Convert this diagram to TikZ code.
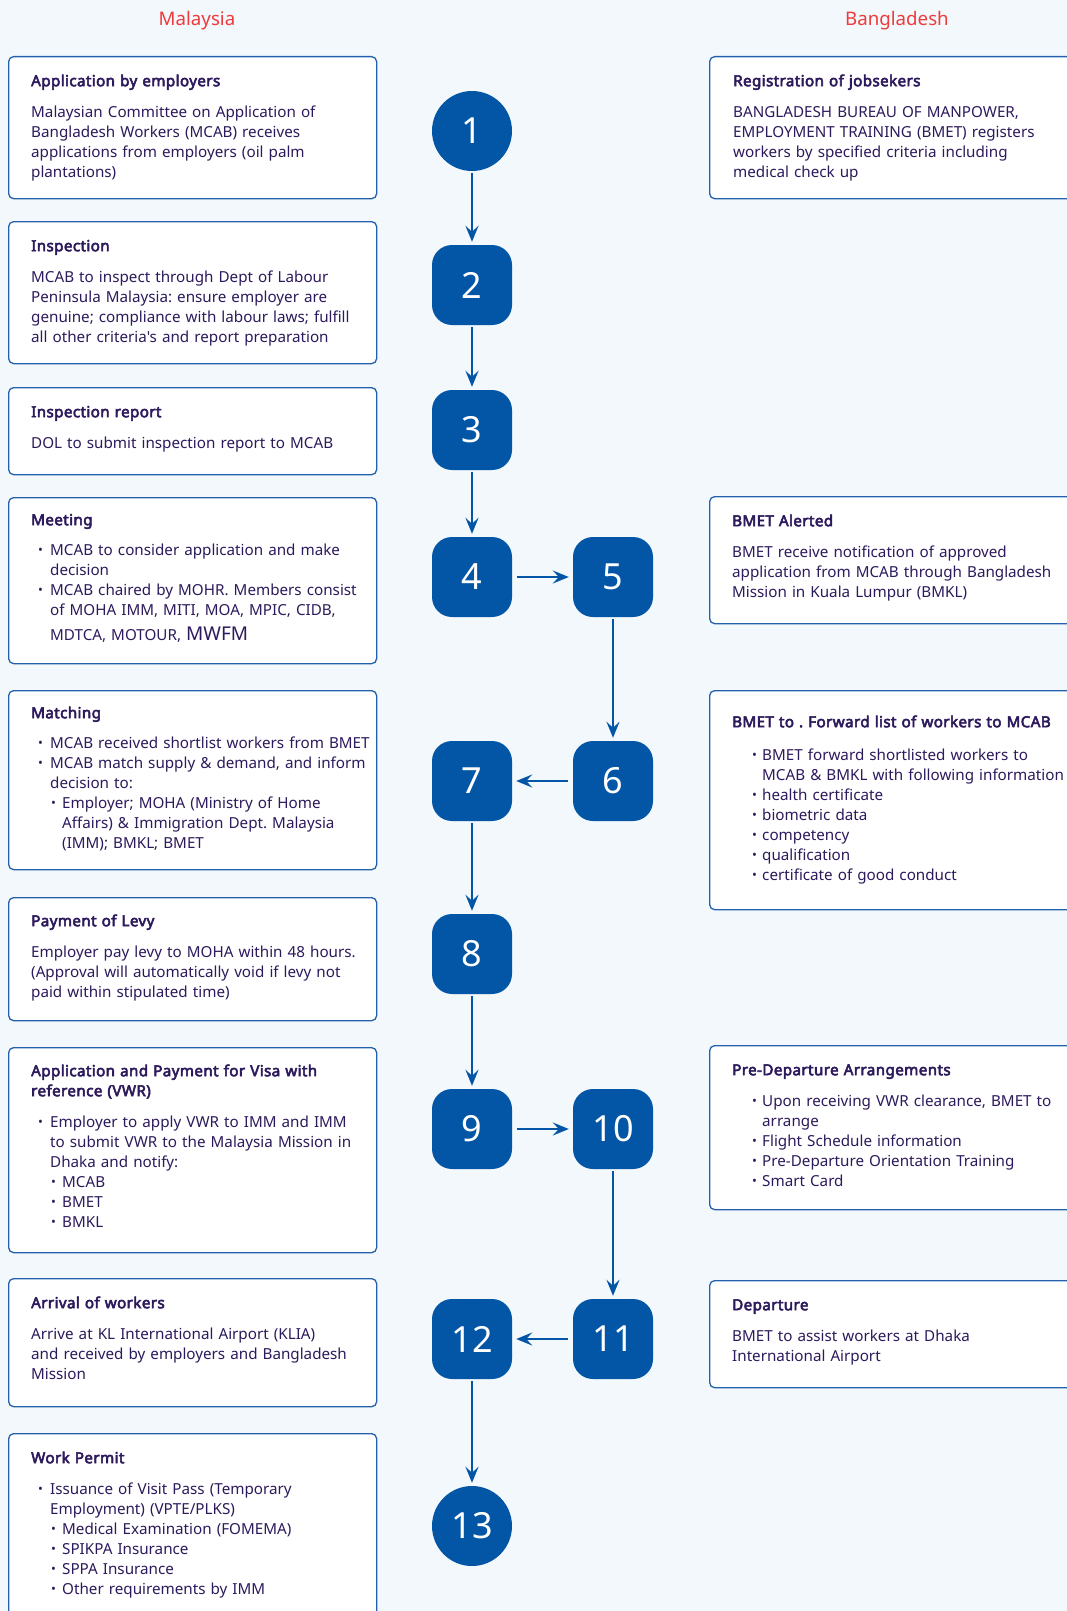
\documentclass[tikz,border=0pt]{standalone}
\usepackage{fontspec}
\setmainfont{Noto Sans}[Ligatures=TeXOff,BoldFont={Noto Sans},BoldFeatures={FakeBold=3.6,LetterSpace=2.5}]
\usetikzlibrary{arrows.meta}
\definecolor{bgc}{HTML}{F2F8FC}
\definecolor{boxc}{HTML}{2461AD}
\definecolor{nodec}{HTML}{0356A5}
\definecolor{txtc}{HTML}{2D1A5C}
\definecolor{redc}{HTML}{EE3B3B}
\setlength{\parindent}{0pt}
\setlength{\parskip}{0pt}
\frenchspacing
\newcommand\bul{\raisebox{0.3pt}{\scalebox{0.85}{•}}}
\newcommand\bi[2]{\hspace*{#1}\makebox[#2][l]{\bul}}
\newcommand\ci[1]{\hspace*{#1}}
\newcommand\st{\rule{0pt}{15pt}}
\newcommand\ttl[2]{\st\textbf{#1}\par\vspace{#2}}
\tikzset{
  x=1pt, y=1pt,
  infobox/.style={draw=boxc, line width=1.3pt, fill=white, rounded corners=5pt, inner sep=0pt, anchor=north west},
  txt/.style={anchor=north west, inner sep=0pt, text width=420pt, align=left, text=txtc, font=\fontsize{15.2}{20}\selectfont\frenchspacing},
  numsq/.style={fill=nodec, rounded corners=20pt, minimum size=80pt, inner sep=0pt, text=white, font=\fontsize{36}{36}\selectfont},
  numci/.style={circle, fill=nodec, minimum size=80pt, inner sep=0pt, text=white, font=\fontsize{36}{36}\selectfont},
  flow/.style={draw=nodec, line width=2pt, -{Stealth[length=16pt,width=13pt,inset=6pt]}, shorten >=3pt, shorten <=2pt},
  flowh/.style={flow, shorten >=4pt, shorten <=5pt},
  coltitle/.style={text=redc, font=\fontsize{18.7}{19}\selectfont, anchor=base, inner sep=0pt}
}
\begin{document}
\begin{tikzpicture}
\useasboundingbox (0,0) rectangle (1067,-1611);
\clip (0,0) rectangle (1067,-1611);
\fill[bgc] (0,0) rectangle (1067,-1611);

% column titles
\node[coltitle] (tmy) at (197,-26) {Malaysia};
\node[coltitle] (tbd) at (897,-26) {Bangladesh};

% ---------- left boxes ----------
\node[infobox, minimum width=368pt, minimum height=142pt] (bL1) at (8,-56) {};
\node[txt] (tL1) at (31,-71) {\ttl{Application by employers}{11pt}
Malaysian Committee on Application of\\
Bangladesh Workers (MCAB) receives\\
applications from employers (oil palm\\
plantations)};

\node[infobox, minimum width=368pt, minimum height=142pt] (bL2) at (8,-221) {};
\node[txt] (tL2) at (31,-236) {\ttl{Inspection}{11pt}
MCAB to inspect through Dept of Labour\\
Peninsula Malaysia: ensure employer are\\
genuine; compliance with labour laws; fulfill\\
all other criteria's and report preparation};

\node[infobox, minimum width=368pt, minimum height=87pt] (bL3) at (8,-387) {};
\node[txt] (tL3) at (31,-402) {\ttl{Inspection report}{11pt}
DOL to submit inspection report to MCAB};

\node[infobox, minimum width=368pt, minimum height=166pt] (bL4) at (8,-497) {};
\node[txt] (tL4) at (31,-510) {\ttl{Meeting}{10pt}
\bi{7pt}{12pt}MCAB to consider application and make\\
\ci{19pt}decision\\
\bi{7pt}{12pt}MCAB chaired by MOHR. Members consist\\
\ci{19pt}of MOHA IMM, MITI, MOA, MPIC, CIDB,\\[5pt]
\ci{19pt}MDTCA, MOTOUR, {\fontsize{19}{20}\selectfont MWFM}};

\node[infobox, minimum width=368pt, minimum height=179pt] (bL5) at (8,-690) {};
\node[txt] (tL5) at (31,-703) {\ttl{Matching}{10pt}
\bi{7pt}{12pt}MCAB received shortlist workers from BMET\\
\bi{7pt}{12pt}MCAB match supply \& demand, and inform\\
\ci{19pt}decision to:\\
\bi{20pt}{11pt}Employer; MOHA (Ministry of Home\\
\ci{31pt}Affairs) \& Immigration Dept. Malaysia\\
\ci{31pt}(IMM); BMKL; BMET};

\node[infobox, minimum width=368pt, minimum height=123pt] (bL6) at (8,-897) {};
\node[txt] (tL6) at (31,-911) {\ttl{Payment of Levy}{11pt}
Employer pay levy to MOHA within 48 hours.\\
(Approval will automatically void if levy not\\
paid within stipulated time)};

\node[infobox, minimum width=368pt, minimum height=205pt] (bL7) at (8,-1047) {};
\node[txt] (tL7) at (31,-1061) {\st\textbf{Application and Payment for Visa with}\\
\textbf{reference (VWR)}\par\vspace{11pt}
\bi{7pt}{12pt}Employer to apply VWR to IMM and IMM\\
\ci{19pt}to submit VWR to the Malaysia Mission in\\
\ci{19pt}Dhaka and notify:\\
\bi{20pt}{11pt}MCAB\\
\bi{20pt}{11pt}BMET\\
\bi{20pt}{11pt}BMKL};

\node[infobox, minimum width=368pt, minimum height=128pt] (bL8) at (8,-1278) {};
\node[txt] (tL8) at (31,-1293) {\ttl{Arrival of workers}{11pt}
Arrive at KL International Airport (KLIA)\\
and received by employers and Bangladesh\\
Mission};

\node[infobox, minimum width=368pt, minimum height=220pt] (bL9) at (8,-1433) {};
\node[txt] (tL9) at (31,-1448) {\ttl{Work Permit}{11pt}
\bi{7pt}{12pt}Issuance of Visit Pass (Temporary\\
\ci{19pt}Employment) (VPTE/PLKS)\\
\bi{20pt}{11pt}Medical Examination (FOMEMA)\\
\bi{20pt}{11pt}SPIKPA Insurance\\
\bi{20pt}{11pt}SPPA Insurance\\
\bi{20pt}{11pt}Other requirements by IMM};

% ---------- right boxes ----------
\node[infobox, minimum width=380pt, minimum height=142pt] (bR1) at (709,-56) {};
\node[txt] (tR1) at (733,-71) {\ttl{Registration of jobsekers}{11pt}
BANGLADESH BUREAU OF MANPOWER,\\
EMPLOYMENT TRAINING (BMET) registers\\
workers by specified criteria including\\
medical check up};

\node[infobox, minimum width=380pt, minimum height=127pt] (bR2) at (709,-496) {};
\node[txt] (tR2) at (732,-511) {\ttl{BMET Alerted}{11pt}
BMET receive notification of approved\\
application from MCAB through Bangladesh\\
Mission in Kuala Lumpur (BMKL)};

\node[infobox, minimum width=380pt, minimum height=219pt] (bR3) at (709,-690) {};
\node[txt] (tR3) at (732,-712) {\ttl{BMET to . Forward list of workers to MCAB}{13pt}
\bi{20pt}{10pt}BMET forward shortlisted workers to\\
\ci{30pt}MCAB \& BMKL with following information\\
\bi{20pt}{10pt}health certificate\\
\bi{20pt}{10pt}biometric data\\
\bi{20pt}{10pt}competency\\
\bi{20pt}{10pt}qualification\\
\bi{20pt}{10pt}certificate of good conduct};

\node[infobox, minimum width=380pt, minimum height=164pt] (bR4) at (709,-1045) {};
\node[txt] (tR4) at (732,-1060) {\ttl{Pre-Departure Arrangements}{11pt}
\bi{20pt}{10pt}Upon receiving VWR clearance, BMET to\\
\ci{30pt}arrange\\
\bi{20pt}{10pt}Flight Schedule information\\
\bi{20pt}{10pt}Pre-Departure Orientation Training\\
\bi{20pt}{10pt}Smart Card};

\node[infobox, minimum width=380pt, minimum height=107pt] (bR5) at (709,-1280) {};
\node[txt] (tR5) at (732,-1295) {\ttl{Departure}{11pt}
BMET to assist workers at Dhaka\\
International Airport};

% ---------- step nodes ----------
\node[numci] (n1) at (472,-131) {1};
\node[numsq] (n2) at (472,-285) {2};
\node[numsq] (n3) at (472,-430) {3};
\node[numsq] (n4) at (472,-577) {4};
\node[numsq] (n5) at (613,-577) {5};
\node[numsq] (n6) at (613,-781) {6};
\node[numsq] (n7) at (472,-781) {7};
\node[numsq] (n8) at (472,-954) {8};
\node[numsq] (n9) at (472,-1129) {9};
\node[numsq] (n10) at (613,-1129) {10};
\node[numsq] (n11) at (613,-1339) {11};
\node[numsq] (n12) at (472,-1339) {12};
\node[numci] (n13) at (472,-1526) {13};

% ---------- connectors ----------
\draw[flow] (n1) -- (n2);
\draw[flow] (n2) -- (n3);
\draw[flow] (n3) -- (n4);
\draw[flowh] (n4) -- (n5);
\draw[flow] (n5) -- (n6);
\draw[flowh] (n6) -- (n7);
\draw[flow] (n7) -- (n8);
\draw[flow] (n8) -- (n9);
\draw[flowh] (n9) -- (n10);
\draw[flow] (n10) -- (n11);
\draw[flowh] (n11) -- (n12);
\draw[flow] (n12) -- (n13);
\end{tikzpicture}
\end{document}
